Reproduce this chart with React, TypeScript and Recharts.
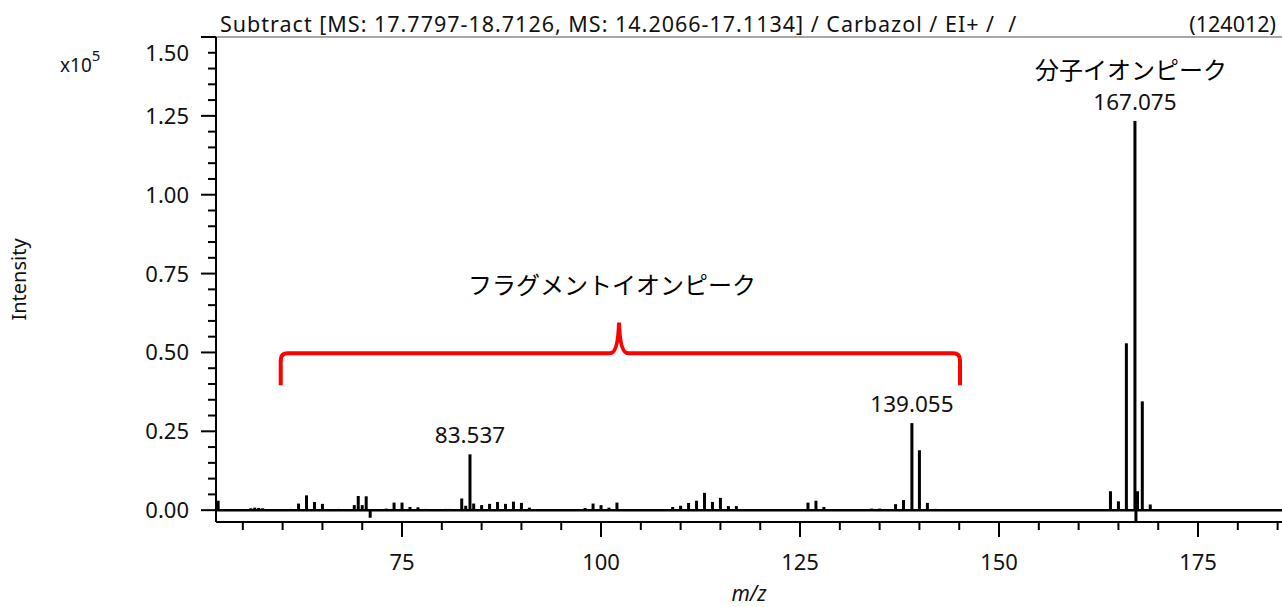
import {
  Bar,
  BarChart,
  LabelList,
  ReferenceArea,
  ReferenceDot,
  ReferenceLine,
  XAxis,
  YAxis,
} from "recharts";

// peak list, intensity in units of 10^5
const peakMz = [
  51.9, 56, 56.5, 57, 57.5, 61, 62, 63, 64, 65, 67, 69, 69.5, 70, 70.5, 71, 73,
  74, 75, 76, 77, 78, 80.5, 81, 82.5, 83, 83.537, 84, 85, 86, 87, 88, 89, 90, 91,
  98, 99, 100, 101, 102, 105, 109, 110, 111, 112, 113, 114, 115, 116, 117, 126,
  127, 128, 134, 135, 137, 138, 139.055, 140, 141, 142, 164, 165, 166, 167.075,
  167.2, 167.4, 168, 169, 178,
];
const peakIntensity = [
  0.03, 0.006, 0.008, 0.007, 0.006, 0.004, 0.021, 0.047, 0.026, 0.02, 0.004,
  0.016, 0.045, 0.016, 0.044, -0.024, 0.005, 0.024, 0.024, 0.01, 0.009, 0.004,
  0.004, 0.004, 0.037, 0.014, 0.177, 0.021, 0.016, 0.02, 0.026, 0.02, 0.027,
  0.023, 0.008, 0.007, 0.021, 0.016, 0.008, 0.024, 0.003, 0.01, 0.014, 0.023,
  0.03, 0.055, 0.026, 0.039, 0.013, 0.013, 0.024, 0.03, 0.01, 0.005, 0.005,
  0.019, 0.032, 0.276, 0.19, 0.023, 0.004, 0.06, 0.028, 0.529, 1.234, -0.037,
  0.06, 0.345, 0.018, 0.003,
];
const labelledPeaks = ["83.537", "139.055", "167.075"];

const xMajor = [75, 100, 125, 150, 175];
const xTicks = [55, 60, 65, 70, 75, 80, 85, 90, 95, 100, 105, 110, 115, 120, 125, 130, 135, 140, 145, 150, 155, 160, 165, 170, 175, 180, 185];
const yMajor = [0, 0.25, 0.5, 0.75, 1, 1.25, 1.5];
const yTicks = Array.from({ length: 31 }, (_, i) => Math.round(i * 5) / 100);

const title = "Subtract [MS: 17.7797-18.7126, MS: 14.2066-17.1134] / Carbazol / EI+ /  /";
const scanNo = "(124012)";
const fragmentNote = "フラグメントイオンピーク";
const molecularNote = "分子イオンピーク";

const data = peakMz.map((mz, i) => ({
  mz,
  intensity: peakIntensity[i],
  label: labelledPeaks.includes(String(mz)) ? String(mz) : undefined,
}));

const FONT = "'Noto Sans', 'DejaVu Sans', sans-serif";
const JP = "'Noto Sans CJK JP', sans-serif";

function XTick({ x, y, payload }: any) {
  const major = xMajor.includes(payload.value);
  return (
    <g>
      <line x1={x} x2={x} y1={y} y2={y + (major ? 15 : 8)} stroke="#000" strokeWidth={2} />
      {major && (
        <text x={x} y={y + 48} textAnchor="middle" fontSize={22} fontFamily={FONT} fill="#111">
          {payload.value}
        </text>
      )}
    </g>
  );
}

function YTick({ x, y, payload }: any) {
  const major = yMajor.some((v) => Math.abs(v - payload.value) < 1e-6);
  const top = Math.abs(payload.value - 1.5) < 1e-6;
  return (
    <g>
      <line x1={x - (major ? 15 : 8)} x2={x} y1={y} y2={y} stroke="#000" strokeWidth={2} />
      {major && (
        <text x={x - 27} y={y + 8 + (top ? 16 : 0)} textAnchor="end" fontSize={22} fontFamily={FONT} fill="#111">
          {payload.value.toFixed(2)}
        </text>
      )}
    </g>
  );
}

function Stick({ x, y, width, height }: any) {
  const cx = x + width / 2;
  const top = Math.min(y, y + height);
  return <rect x={cx - 1.5} y={top} width={3} height={Math.abs(height)} fill="#000" />;
}

function PeakLabel({ x, y, width, value }: any) {
  if (!value) return null;
  return (
    <text x={x + width / 2} y={y - 11} textAnchor="middle" fontSize={22.5} fontFamily={FONT} fill="#111">
      {value}
    </text>
  );
}

function Brace({ x, y, width, height }: any) {
  const left = x;
  const right = x + width;
  const bottom = y + height;
  const bar = y + height * 0.49;
  const mid = left + width * 0.498;
  const r = 7;
  const d = [
    `M${left},${bottom}`,
    `L${left},${bar + r}`,
    `Q${left},${bar} ${left + r},${bar}`,
    `L${mid - 9},${bar}`,
    `Q${mid - 1},${bar} ${mid},${y}`,
    `Q${mid + 1},${bar} ${mid + 9},${bar}`,
    `L${right - r},${bar}`,
    `Q${right},${bar} ${right},${bar + r}`,
    `L${right},${bottom}`,
  ].join(" ");
  return <path d={d} fill="none" stroke="#ff0000" strokeWidth={4} />;
}

function NoteText(text: string) {
  return ({ cx, cy }: any) => (
    <text x={cx} y={cy} textAnchor="middle" dominantBaseline="central" fontSize={24} fontFamily={JP} fill="#000">
      {text}
    </text>
  );
}

export default function App() {
  return (
    <div style={{ position: "absolute", left: 0, top: 0, width: 1282, height: 607, background: "#fff" }}>
      <BarChart
        width={1282}
        height={607}
        data={data}
        margin={{ top: 37, right: 0, left: 0, bottom: 0 }}
      >
        <XAxis
          dataKey="mz"
          type="number"
          domain={[51.63, 185.55]}
          allowDataOverflow
          ticks={xTicks}
          interval={0}
          height={85}
          tickSize={0}
          tickMargin={0}
          tick={<XTick />}
          axisLine={{ stroke: "#000", strokeWidth: 2 }}
          label={{
            value: "m/z",
            position: "insideBottom",
            offset: 6,
            fontSize: 21,
            fontStyle: "italic",
            fontFamily: FONT,
            fill: "#111",
          }}
        />
        <YAxis
          type="number"
          domain={[-0.0375, 1.5]}
          allowDataOverflow
          ticks={yTicks}
          interval={0}
          width={216}
          tickSize={0}
          tickMargin={0}
          tick={<YTick />}
          axisLine={{ stroke: "#000", strokeWidth: 2 }}
          label={{
            value: "Intensity",
            angle: -90,
            position: "insideLeft",
            offset: 19,
            fontSize: 20,
            fontFamily: FONT,
            fill: "#111",
            style: { textAnchor: "middle" },
          }}
        />
        <ReferenceLine y={1.5} stroke="#8a8a8a" strokeWidth={1.5} />
        <ReferenceLine y={0} stroke="#000" strokeWidth={2.5} />
        <Bar dataKey="intensity" fill="#000" shape={<Stick />} isAnimationActive={false}>
          <LabelList dataKey="label" content={<PeakLabel />} />
        </Bar>
        <ReferenceArea
          x1={59.76}
          x2={145.1}
          y1={0.396}
          y2={0.595}
          shape={<Brace />}
        />
        <ReferenceDot x={101.38} y={0.718} r={0} shape={NoteText(fragmentNote)} />
        <ReferenceDot x={166.58} y={1.401} r={0} shape={NoteText(molecularNote)} />
      </BarChart>
      <svg
        width={1282}
        height={607}
        style={{ position: "absolute", left: 0, top: 0, pointerEvents: "none" }}
      >
        <text
          x={220}
          y={32}
          fontSize={21.5}
          letterSpacing={1}
          fontFamily={FONT}
          fill="#111"
          style={{ whiteSpace: "pre" }}
        >
          {title}
        </text>
        <text x={1276} y={32} textAnchor="end" fontSize={21.5} fontFamily={FONT} fill="#111">
          {scanNo}
        </text>
        <text x={60} y={72} fontSize={19} fontFamily={FONT} fill="#111">
          x10
          <tspan dy={-11} fontSize={15}>5</tspan>
        </text>
      </svg>
    </div>
  );
}
